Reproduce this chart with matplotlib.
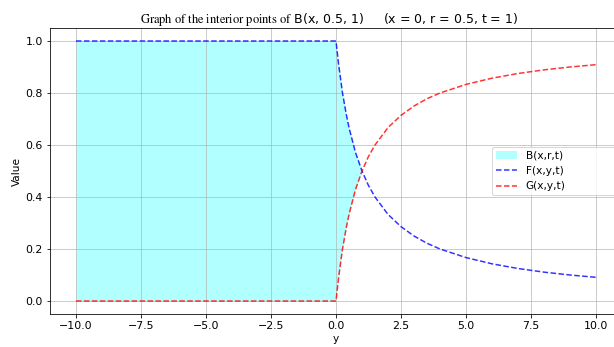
import numpy as np
import matplotlib
matplotlib.use("Agg")
import matplotlib.pyplot as plt

# values
y = [-10.0, -5.0, 0.0, 0.1, 0.25, 0.4, 0.5, 0.75, 1.0, 1.25, 1.5, 2.0, 2.5,
     3.0, 3.5, 4.0, 5.0, 6.0, 7.0, 8.0, 9.0, 10.0]
F = [1.0, 1.0, 1.0, 0.91, 0.8, 0.715, 0.667, 0.571, 0.5, 0.444, 0.4, 0.333,
     0.286, 0.25, 0.222, 0.2, 0.167, 0.143, 0.125, 0.111, 0.1, 0.091]
G = [0.0, 0.0, 0.0, 0.09, 0.2, 0.285, 0.333, 0.429, 0.5, 0.556, 0.6, 0.667,
     0.714, 0.75, 0.778, 0.8, 0.833, 0.857, 0.875, 0.889, 0.9, 0.909]

plt.rcParams["mathtext.fontset"] = "stix"
plt.rcParams["font.size"] = 10.5

fig = plt.figure(figsize=(614 / 72, 347 / 72), dpi=72)
ax = fig.add_axes([50 / 614, 33 / 347, 572 / 614, 286 / 347])

yy = np.array(y)
ff = np.array(F)
gg = np.array(G)
ax.fill_between(yy, gg, ff, where=ff >= gg, interpolate=True,
                color="cyan", alpha=0.3, linewidth=0, label="B(x,r,t)")
ax.plot(yy, ff, "--", color="blue", alpha=0.8, lw=1.5, label="F(x,y,t)")
ax.plot(yy, gg, "--", color="red", alpha=0.8, lw=1.5, label="G(x,y,t)")

ax.set_xlim(-11, 11)
ax.set_ylim(-0.05, 1.05)
ax.tick_params(labelsize=11)
ax.grid(True, color="#b0b0b0", alpha=0.8)
ax.set_xlabel("y", labelpad=3)
ax.set_ylabel("Value")
ax.set_title(r"$\mathrm{Graph\ of\ the\ interior\ points\ of}$ B(x, 0.5, 1)     (x = 0, r = 0.5, t = 1)",
             fontsize=12.5, pad=5, x=0.487)
ax.legend(loc="center left", bbox_to_anchor=(0.773, 0.5, 0.218, 0),
          mode="expand", borderaxespad=0, fontsize=10.5)

fig.savefig("out.png", dpi=72)
